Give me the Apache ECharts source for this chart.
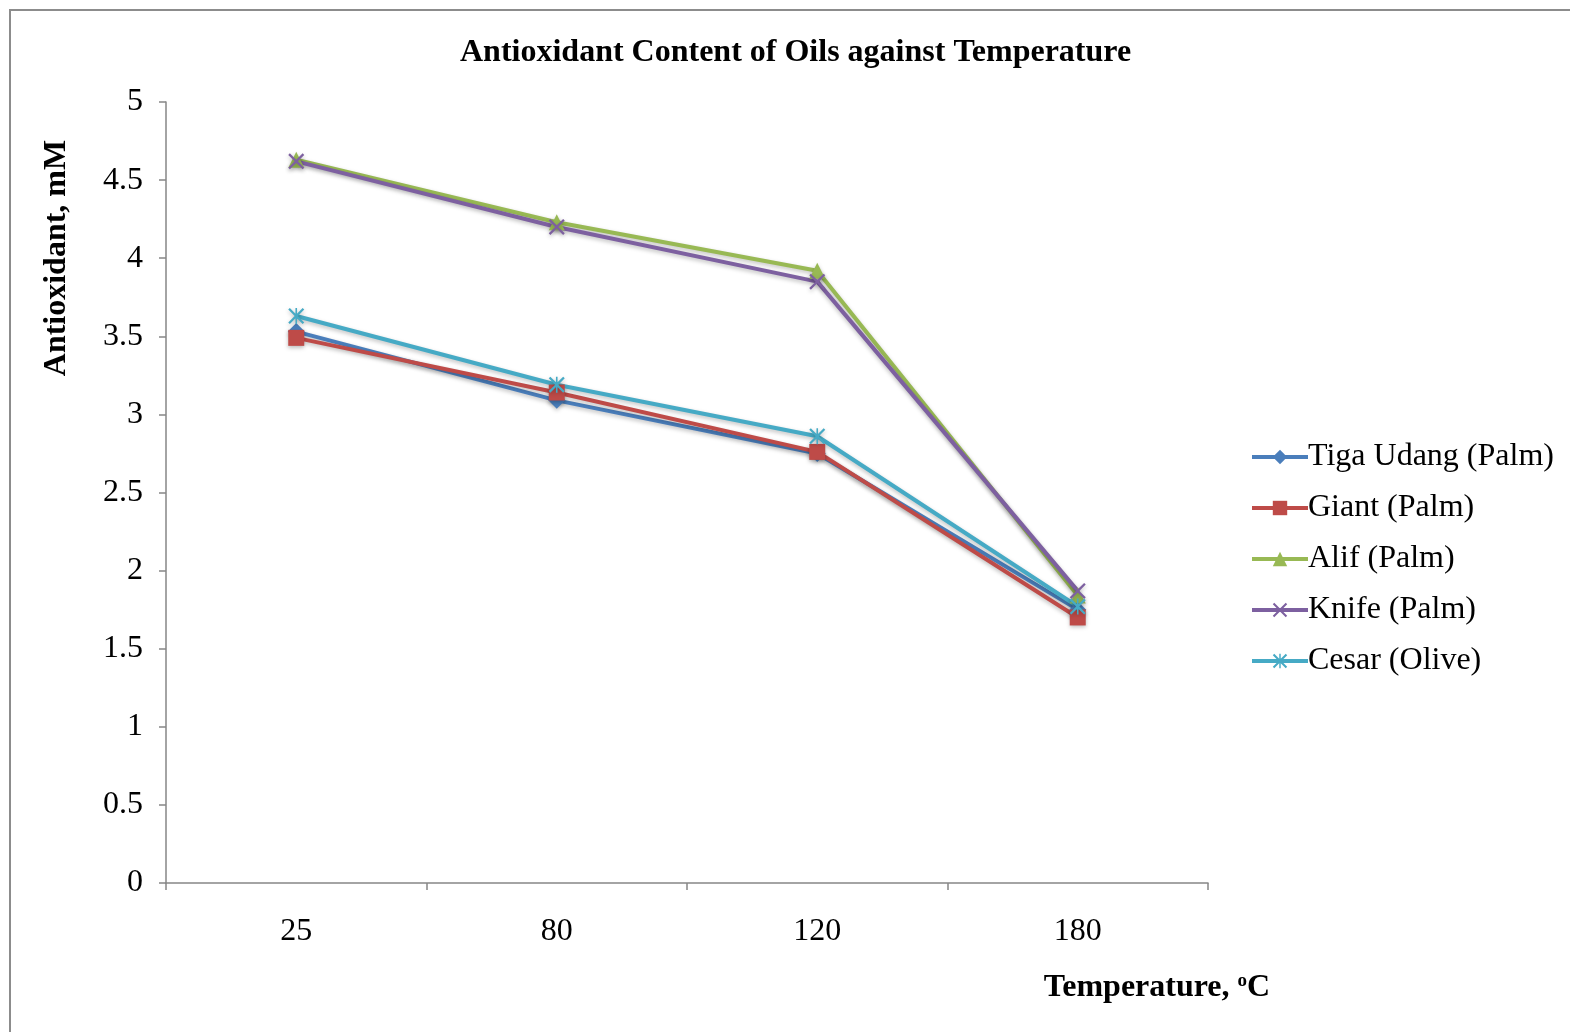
<!DOCTYPE html>
<html><head><meta charset="utf-8">
<script src="https://cdn.jsdelivr.net/npm/echarts@6/dist/echarts.min.js"></script>
<style>html,body{margin:0;padding:0;background:#fff}#c{width:1570px;height:1032px}</style>
</head><body><div id="c"></div>
<script>
const categories = ['25', '80', '120', '180'];
const tigaUdang = [3.53, 3.09, 2.75, 1.75];
const giant = [3.49, 3.14, 2.76, 1.70];
const alif = [4.63, 4.23, 3.92, 1.84];
const knife = [4.62, 4.20, 3.85, 1.87];
const cesar = [3.63, 3.19, 2.86, 1.77];
const yTicks = [0, 0.5, 1, 1.5, 2, 2.5, 3, 3.5, 4, 4.5, 5];

const XPATH = 'path://M0,2 L2,0 L10,8 L18,0 L20,2 L12,10 L20,18 L18,20 L10,12 L2,20 L0,18 L8,10 Z';
const STAR = XPATH.replace(' Z', ' Z M9,0 L11,0 L11,20 L9,20 Z');
const serif = '"Liberation Serif","DejaVu Serif",serif';

function mk(name, data, color, symbol, size) {
  return {
    name, type: 'line', data, symbol, symbolSize: size,
    lineStyle: {width: 4, color, shadowColor: 'rgba(0,0,0,0.25)', shadowBlur: 4, shadowOffsetY: 2},
    itemStyle: {color, shadowColor: 'rgba(0,0,0,0.25)', shadowBlur: 4, shadowOffsetY: 2},
    emphasis: {disabled: true}, z: 2
  };
}

const chart = echarts.init(document.getElementById('c'));
chart.setOption({
  animation: false,
  backgroundColor: '#fff',
  title: {
    text: 'Antioxidant Content of Oils against Temperature',
    left: 455, top: 32,
    textStyle: {fontFamily: serif, fontWeight: 'bold', fontSize: 32, color: '#000'}
  },
  grid: {left: 166, top: 102, right: 362, bottom: 149},
  legend: {
    orient: 'vertical', left: 1245, top: 436,
    itemWidth: 56, itemHeight: 18, itemGap: 19,
    lineStyle: {width: 4},
    textStyle: {fontFamily: serif, fontSize: 32, color: '#000', padding: [0,0,0,-5]},
    data: ['Tiga Udang (Palm)', 'Giant (Palm)', 'Alif (Palm)', 'Knife (Palm)', 'Cesar (Olive)']
  },
  xAxis: {
    type: 'category', data: categories, boundaryGap: true,
    axisLine: {lineStyle: {color: '#868686', width: 1.5}},
    axisTick: {show: true, length: 7, inside: false, lineStyle: {color: '#868686', width: 1.5}},
    axisLabel: {fontFamily: serif, fontSize: 32, color: '#000', margin: 33},
    splitLine: {show: false}
  },
  yAxis: {
    type: 'value', min: yTicks[0], max: yTicks[yTicks.length - 1], interval: 0.5,
    axisLine: {show: true, lineStyle: {color: '#868686', width: 1.5}},
    axisTick: {show: true, length: 7, lineStyle: {color: '#868686', width: 1.5}},
    axisLabel: {fontFamily: serif, fontSize: 32, color: '#000', margin: 23},
    splitLine: {show: false}
  },
  graphic: [
    {type: 'rect', shape: {x: 10, y: 10, width: 1600, height: 1100}, style: {fill: 'none', stroke: '#8c8c8c', lineWidth: 2}, silent: true, z: -1},
    {type: 'text', x: 57, y: 258, rotation: Math.PI / 2, style: {text: 'Antioxidant, mM', font: 'bold 32px ' + serif, fill: '#000', align: 'center', verticalAlign: 'middle'}},
    {type: 'text', x: 1157, y: 988, style: {
      text: '{a|Temperature, }{s|o}{a|C}',
      align: 'center', verticalAlign: 'middle',
      rich: {
        a: {fontFamily: serif, fontWeight: 'bold', fontSize: 32, color: '#000'},
        s: {fontFamily: serif, fontWeight: 'bold', fontSize: 19, color: '#000', verticalAlign: 'top', padding: [0,0,14,0]}
      }
    }}
  ],
  series: [
    mk('Tiga Udang (Palm)', tigaUdang, '#4A7EBB', 'diamond', 17),
    mk('Giant (Palm)', giant, '#BE4B48', 'rect', 16),
    mk('Alif (Palm)', alif, '#98B954', 'triangle', 16),
    mk('Knife (Palm)', knife, '#7D60A0', XPATH, 16),
    mk('Cesar (Olive)', cesar, '#46AAC5', STAR, 16)
  ]
});
</script></body></html>
